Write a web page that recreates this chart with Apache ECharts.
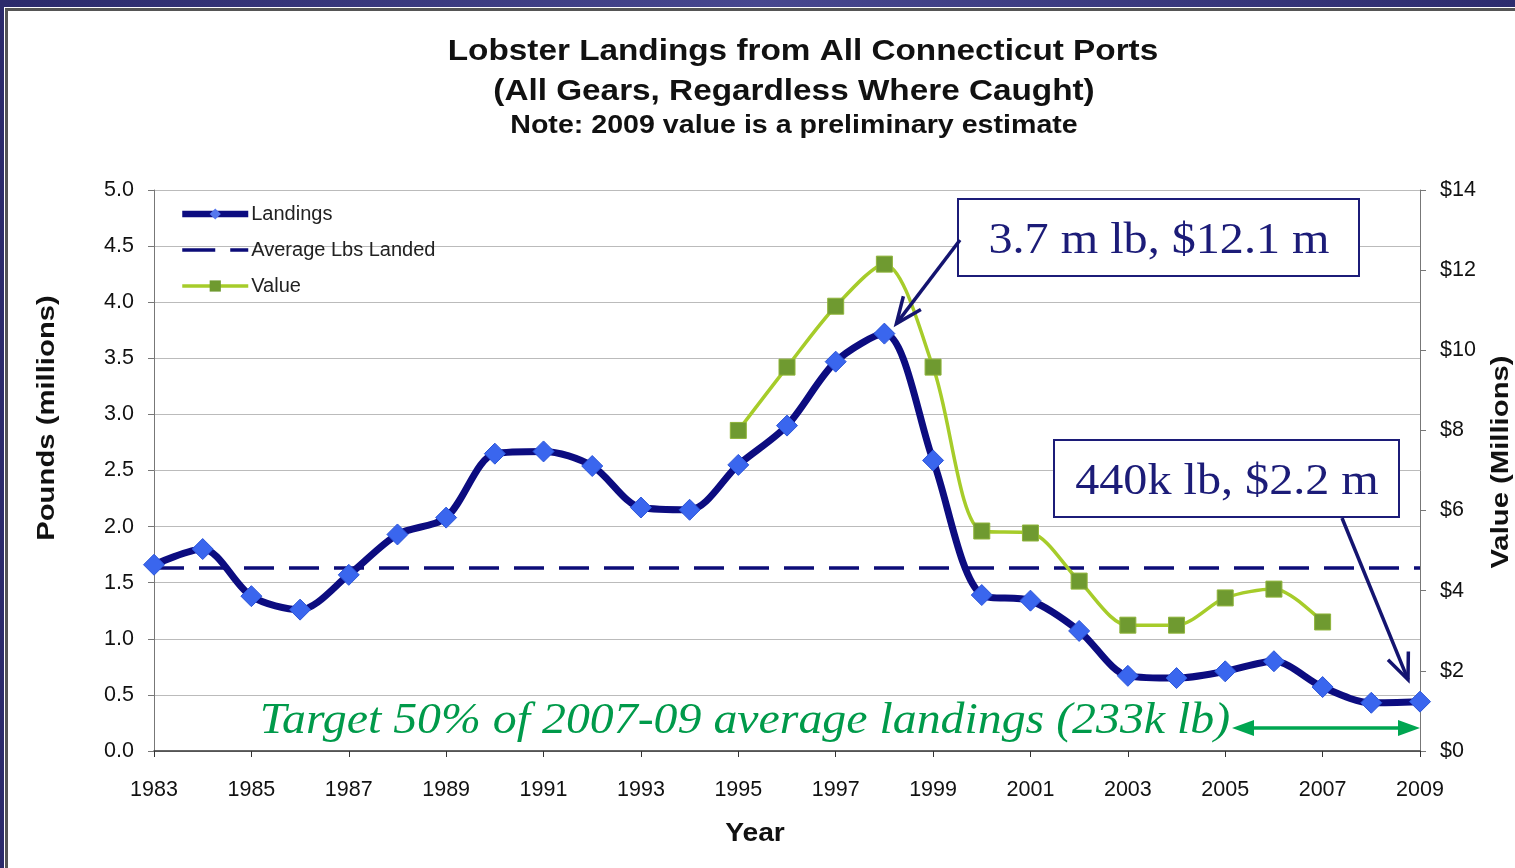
<!DOCTYPE html>
<html><head><meta charset="utf-8">
<script src="https://cdn.jsdelivr.net/npm/echarts@6/dist/echarts.min.js"></script>
<style>
html,body{margin:0;padding:0;width:1515px;height:868px;overflow:hidden;
background:linear-gradient(90deg,#2b2a6b 0%,#47478f 50%,#2d2c6e 100%);}
#panel{position:absolute;left:5px;top:8px;width:1520px;height:870px;background:#fff;
border-top:3px solid #555;border-left:3px solid #555;box-shadow:-1px -1px 0 #fff;}
#chart{position:absolute;left:0;top:0;width:1515px;height:868px;}
</style></head>
<body><div id="panel"></div><div id="chart"></div>
<script>
const years = ['1983','1984','1985','1986','1987','1988','1989','1990','1991','1992','1993','1994','1995','1996','1997','1998','1999','2000','2001','2002','2003','2004','2005','2006','2007','2008','2009'];
const landings = [1.66,1.80,1.38,1.26,1.57,1.93,2.08,2.65,2.67,2.54,2.17,2.15,2.55,2.90,3.47,3.72,2.59,1.39,1.34,1.07,0.67,0.65,0.71,0.80,0.57,0.43,0.44];
const avgLbs = 1.63;
const valueM = [null,null,null,null,null,null,null,null,null,null,null,null,8.0,9.58,11.1,12.15,9.58,5.49,5.44,4.24,3.14,3.14,3.82,4.04,3.22,null,null];
const leftTicks = {min:0,max:5,interval:0.5};
const rightTicks = {min:0,max:14,interval:2};

const chart = echarts.init(document.getElementById('chart'));
const SANS = 'Arial, "Liberation Sans", sans-serif';
const lab = {fontFamily:SANS,fontSize:21.5,color:'#111'};
const dash = [30,15];
const option = {
  animation:false,
  backgroundColor:'transparent',
  legend:{orient:'vertical',left:174,top:199,itemWidth:66,itemHeight:14,itemGap:16,
    textStyle:{fontFamily:SANS,fontSize:20,color:'#222',padding:[0,0,0,-2]},
    data:[
      {name:'Landings',lineStyle:{width:6.5,color:'#0c0c80'},itemStyle:{color:'#5577ee',borderWidth:0}},
      {name:'Average Lbs Landed',lineStyle:{width:3.5,color:'#0c0c78',type:[33,15]},itemStyle:{opacity:0}},
      {name:'Value',lineStyle:{width:3.5,color:'#a6cc2a'},itemStyle:{color:'#6f9a30',borderWidth:0}}
    ]},
  grid:{left:154,right:95,top:190,bottom:117,containLabel:false},
  xAxis:{type:'category',data:years,boundaryGap:false,
    axisLine:{lineStyle:{color:'#333',width:1.5}},
    axisTick:{show:true,interval:1,length:6,lineStyle:{color:'#333'}},
    axisLabel:Object.assign({interval:1,margin:28},lab),
    splitLine:{show:false}},
  yAxis:[
    {type:'value',min:leftTicks.min,max:leftTicks.max,interval:leftTicks.interval,
     axisLine:{show:true,lineStyle:{color:'#777'}},
     axisTick:{show:true,length:6,lineStyle:{color:'#777'}},
     axisLabel:Object.assign({margin:20,formatter:v=>v.toFixed(1)},lab),
     splitLine:{show:true,lineStyle:{color:'#bbb',width:1.2}}},
    {type:'value',min:rightTicks.min,max:rightTicks.max,interval:rightTicks.interval,position:'right',
     axisLine:{show:true,lineStyle:{color:'#777'}},
     axisTick:{show:true,length:6,lineStyle:{color:'#777'}},
     axisLabel:Object.assign({margin:20,formatter:v=>'$'+v},lab),
     splitLine:{show:false}}
  ],
  series:[
    {name:'Average Lbs Landed',type:'line',yAxisIndex:0,data:years.map(()=>avgLbs),symbol:'none',
     lineStyle:{color:'#0c0c78',width:3.5,type:dash},itemStyle:{color:'#0c0c78'},z:2},
    {name:'Value',type:'line',yAxisIndex:1,data:valueM,smooth:0.3,symbol:'rect',symbolSize:16,
     lineStyle:{color:'#a6cc2a',width:3.5},itemStyle:{color:'#6f9a30',borderColor:'#8fb43a',borderWidth:1},z:3},
    {name:'Landings',type:'line',yAxisIndex:0,data:landings,smooth:0.3,symbol:'diamond',symbolSize:[21,21],
     lineStyle:{color:'#0c0c80',width:7},itemStyle:{color:'#3a66ee',borderColor:'#2b55d8',borderWidth:1},z:4}
  ]
};
chart.setOption(option);

function openArrow(x1,y1,x2,y2,color,w,hl,hw){
  const a=Math.atan2(y2-y1,x2-x1);
  const bx=x2-hl*Math.cos(a), by=y2-hl*Math.sin(a);
  const px=-Math.sin(a)*hw/2, py=Math.cos(a)*hw/2;
  return [
    {type:'line',shape:{x1:x1,y1:y1,x2:x2,y2:y2},style:{stroke:color,lineWidth:w},z:50},
    {type:'polyline',shape:{points:[[bx+px,by+py],[x2,y2],[bx-px,by-py]]},style:{stroke:color,lineWidth:w,fill:null,lineJoin:'miter'},z:50}
  ];
}
const p98 = chart.convertToPixel({xAxisIndex:0,yAxisIndex:0},['1998',landings[15]]);
const p09 = chart.convertToPixel({xAxisIndex:0,yAxisIndex:0},['2009',landings[26]]);
const xEnd = chart.convertToPixel({xAxisIndex:0},'2009');
const annFont = '"Liberation Serif","Times New Roman",serif';
const navy='#1c1c78';
function txt(x,y,s,font,sx,extra){
  return Object.assign({type:'text',position:[x,y],scaleX:sx,
    style:{text:s,font:font,fill:'#111',align:'center',verticalAlign:'middle'},z:10},extra||{});
}
const g=[
  txt(803,52,'Lobster Landings from All Connecticut Ports','bold 30px '+SANS,1.11),
  txt(794,92,'(All Gears, Regardless Where Caught)','bold 30px '+SANS,1.11),
  txt(794,126,'Note: 2009 value is a preliminary estimate','bold 26px '+SANS,1.10),
  txt(47,418,'Pounds (millions)','bold 24px '+SANS,1.22,{rotation:Math.PI/2}),
  txt(1501,462,'Value (Millions)','bold 24px '+SANS,1.22,{rotation:Math.PI/2}),
  txt(755,834,'Year','bold 25px '+SANS,1.13),
  {type:'rect',shape:{x:958,y:199,width:401,height:77},style:{fill:'#fff',stroke:navy,lineWidth:2},z:40},
  {type:'rect',shape:{x:1054,y:440,width:345,height:77},style:{fill:'#fff',stroke:navy,lineWidth:2},z:40}
];
const shadow={shadowColor:'rgba(0,0,0,0.35)',shadowOffsetX:2,shadowOffsetY:2,shadowBlur:2};
const t1=txt(1159,241,'3.7 m lb, $12.1 m','45px '+annFont,1.07,{z:41});
Object.assign(t1.style,{fill:navy},shadow);
const t2=txt(1227,482,'440k lb, $2.2 m','45px '+annFont,1.07,{z:41});
Object.assign(t2.style,{fill:navy},shadow);
const t3=txt(745,721,'Target 50% of 2007-09 average landings (233k lb)','italic 45px '+annFont,1.063,{z:41});
Object.assign(t3.style,{fill:'#009a4a',shadowColor:'rgba(0,0,0,0.25)',shadowOffsetX:1.5,shadowOffsetY:1.5,shadowBlur:2});
g.push(t1,t2,t3);
g.push(...openArrow(960,240,p98[0]+12,p98[1]-10,'#141470',3.5,26,22));
g.push(...openArrow(1342,518,p09[0]-12,p09[1]-22,'#141470',3.5,26,22));
const ay=728;
g.push({type:'line',shape:{x1:1248,y1:ay,x2:xEnd-16,y2:ay},style:{stroke:'#00a651',lineWidth:3.5},z:50});
g.push({type:'polygon',shape:{points:[[1232,ay],[1254,ay-8],[1254,ay+8]]},style:{fill:'#00a651'},z:50});
g.push({type:'polygon',shape:{points:[[xEnd,ay],[xEnd-22,ay-8],[xEnd-22,ay+8]]},style:{fill:'#00a651'},z:50});
chart.setOption({graphic:g});
</script></body></html>
